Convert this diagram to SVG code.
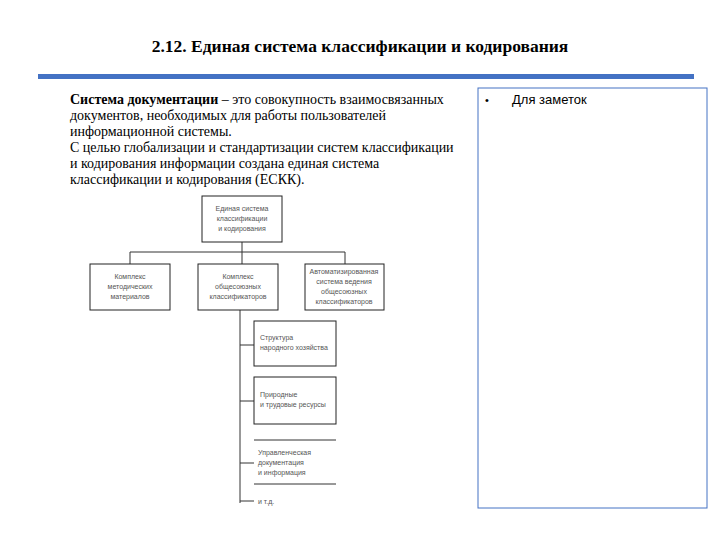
<svg xmlns="http://www.w3.org/2000/svg" width="720" height="540" viewBox="0 0 720 540">
<style>
.t{font-family:"Liberation Serif",serif;font-size:14px;fill:#000}
.s{font-family:"Liberation Sans",sans-serif;font-size:7px;fill:#555;text-anchor:middle}
.b{fill:#fff;stroke:#222;stroke-width:1}
.c{stroke:#333;stroke-width:1;fill:none}
</style>
<rect width="720" height="540" fill="#fff"/>
<text x="360" y="52" class="t" style="font-size:17.5px;font-weight:bold" text-anchor="middle">2.12. Единая система классификации и кодирования</text>
<rect x="38" y="74" width="656" height="5" fill="#4472c4"/>
<text class="t"><tspan x="70" y="104"><tspan font-weight="bold">Система документации</tspan> – это совокупность взаимосвязанных</tspan><tspan x="70" y="120">документов, необходимых для работы пользователей</tspan><tspan x="70" y="136">информационной системы.</tspan><tspan x="70" y="152">С целью глобализации и стандартизации систем классификации</tspan><tspan x="70" y="168">и кодирования информации создана единая система</tspan><tspan x="70" y="184">классификации и кодирования (ЕСКК).</tspan></text>
<rect x="478" y="88" width="229" height="420" fill="none" stroke="#4472c4" stroke-width="1"/>
<text x="485" y="104" style="font-family:'Liberation Sans',sans-serif;font-size:11px">•</text>
<text x="512" y="104" style="font-family:'Liberation Sans',sans-serif;font-size:13px">Для заметок</text>
<g id="connectors">
<path class="c" d="M242 242V264M130 252H345M130 252V264M345 252V264M240 310V503M240 345H254M240 401H254M240 463H254M240 501H254"/>
</g>
<g id="n1"><rect class="b" x="202" y="196" width="80" height="46"/><text class="s"><tspan x="242" y="211">Единая система</tspan><tspan x="242" y="221">классификации</tspan><tspan x="242" y="231">и кодирования</tspan></text></g>
<g id="n2"><rect class="b" x="90" y="264" width="80" height="46"/><text class="s"><tspan x="130" y="279">Комплекс</tspan><tspan x="130" y="289">методических</tspan><tspan x="130" y="299">материалов</tspan></text></g>
<g id="n3"><rect class="b" x="198" y="264" width="80" height="46"/><text class="s"><tspan x="238" y="279">Комплекс</tspan><tspan x="238" y="289">общесоюзных</tspan><tspan x="238" y="299">классификаторов</tspan></text></g>
<g id="n4"><rect class="b" x="305" y="264" width="79" height="46"/><text class="s"><tspan x="344" y="274">Автоматизированная</tspan><tspan x="344" y="284">система ведения</tspan><tspan x="344" y="294">общесоюзных</tspan><tspan x="344" y="304">классификаторов</tspan></text></g>
<g id="n5"><rect class="b" x="254" y="321" width="82" height="45"/><text class="s" style="text-anchor:start"><tspan x="260" y="340">Структура</tspan><tspan x="260" y="350">народного хозяйства</tspan></text></g>
<g id="n6"><rect class="b" x="254" y="377" width="82" height="47"/><text class="s" style="text-anchor:start"><tspan x="260" y="397">Природные</tspan><tspan x="260" y="407">и трудовые ресурсы</tspan></text></g>
<g id="n7"><path class="c" d="M254 440H336M254 484H336"/><text class="s" style="text-anchor:start"><tspan x="258" y="455">Управленческая</tspan><tspan x="258" y="465">документация</tspan><tspan x="258" y="475">и информация</tspan></text></g>
<g id="n8"><text class="s" style="text-anchor:start" x="258" y="504">и т.д.</text></g>
</svg>
